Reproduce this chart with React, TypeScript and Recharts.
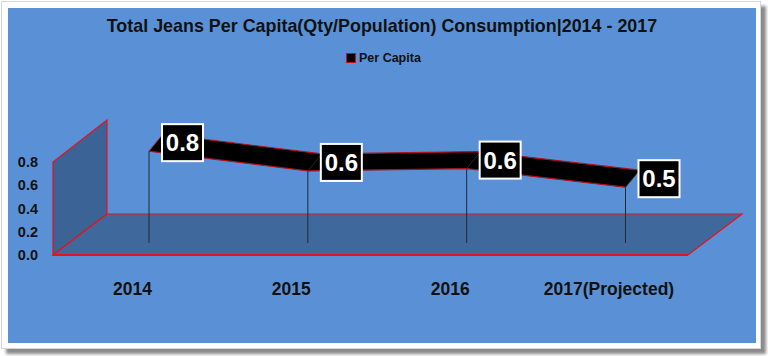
import React from 'react';
import { ComposedChart, Line, XAxis, YAxis, ReferenceLine, LabelList } from 'recharts';

const years = ['2014', '2015', '2016', '2017(Projected)'];
const perCapita = [0.79, 0.62, 0.64, 0.48];
const yTicks = [0, 0.2, 0.4, 0.6, 0.8];

const BLUE = '#5a91d6';
const FLOOR = '#3f699d';
const WALL = '#3b6396';
const RED = '#e8121c';
const INK = '#111111';
const FONT = "'Liberation Sans', Arial, sans-serif";

const W = 748;
const H = 335;
const X_AXIS_H = 88;
const PLOT_BOTTOM = H - X_AXIS_H;
const PX_PER_UNIT = 116.25;
const M = { top: PLOT_BOTTOM - PX_PER_UNIT, right: 0, bottom: 0, left: 0 };
// the ribbon sits a little behind the front face, its zero is 12px higher
const SERIES_SHIFT = 12 / PX_PER_UNIT;
const WALL_TOP = PLOT_BOTTOM - 0.8 * PX_PER_UNIT;
// 3d depth of the ribbon and the floor, in pixels
const RIB_DX = 14;
const RIB_DY = 17;
const FLOOR_DX = 54;
const FLOOR_DY = 41;
const WALL_X = 45;
const FLOOR_RIGHT = 680;

const ribbonPts: { x: number; y: number }[] = [];

// the dots are drawn in order, the last one draws the whole 3d ribbon
const RibbonDot = (props: any) => {
    const { cx, cy, index } = props;
    ribbonPts[index] = { x: cx, y: cy };
    if (index !== perCapita.length - 1) return <g key={`rd-${index}`} />;
    const src: { x: number; y: number }[] =
        Array.isArray(props.points) && props.points.length === perCapita.length
            ? props.points
            : ribbonPts.slice(0, perCapita.length);
    const front = src.map((p) => [p.x, p.y]);
    const back = front.map(([x, y]) => [x + RIB_DX, y - RIB_DY]);
    const poly = [...front, ...back.slice().reverse()].map((p) => p.join(',')).join(' ');
    return (
        <g key="ribbon">
            <polygon points={poly} fill="#000" />
            <polyline points={front.map((p) => p.join(',')).join(' ')} fill="none" stroke="#b0101a" strokeWidth={1.2} />
            <polyline points={back.map((p) => p.join(',')).join(' ')} fill="none" stroke="#b0101a" strokeWidth={1.2} />
            {front.map(([x, y], i) => (
                <line key={i} x1={x} y1={y} x2={back[i][0]} y2={back[i][1]} stroke={i === 0 ? '#b0101a' : '#3a2020'} strokeWidth={1} />
            ))}
        </g>
    );
};

const ValueLabel = (props: any) => {
    const { x, y, value } = props;
    const left = x + 13;
    const cy = y - 8.5;
    return (
        <g>
            <rect x={left} y={cy - 18.5} width={41} height={37} fill="#000" stroke="#fff" strokeWidth={2} />
            <text x={left + 20.5} y={cy + 8.5} textAnchor="middle" fill="#fff" fontSize={24} fontWeight={700} fontFamily={FONT}>
                {Number(value).toFixed(1)}
            </text>
        </g>
    );
};

export default function App() {
    const data = years.map((year, i) => ({ year, perCapita: perCapita[i] }));
    const floor = [
        [WALL_X, PLOT_BOTTOM],
        [FLOOR_RIGHT, PLOT_BOTTOM],
        [FLOOR_RIGHT + FLOOR_DX, PLOT_BOTTOM - FLOOR_DY],
        [WALL_X + FLOOR_DX, PLOT_BOTTOM - FLOOR_DY],
    ];
    const wall = [
        [WALL_X, PLOT_BOTTOM],
        [WALL_X, WALL_TOP],
        [WALL_X + FLOOR_DX, WALL_TOP - FLOOR_DY - 1],
        [WALL_X + FLOOR_DX, PLOT_BOTTOM - FLOOR_DY],
    ];
    const pts = (a: number[][]) => a.map((p) => p.join(',')).join(' ');

    return (
        <div style={{ position: 'absolute', left: 0, top: 0, width: 768, height: 356, background: '#fff', fontFamily: FONT }}>
            <div
                style={{
                    position: 'absolute',
                    left: 1,
                    top: 1,
                    width: 758,
                    height: 346,
                    border: '1px solid #d6d6d6',
                    boxShadow: '5px 5px 3px #8a8a8a',
                    background: '#fff',
                }}
            />
            <div style={{ position: 'absolute', left: 8, top: 8, width: W, height: H, background: BLUE }}>
                <svg width={W} height={H} style={{ position: 'absolute', left: 0, top: 0 }}>
                    <text x={374} y={24} textAnchor="middle" fontSize={17.9} fontWeight={700} fill={INK} fontFamily={FONT}>
                        Total Jeans Per Capita(Qty/Population) Consumption|2014 - 2017
                    </text>
                    <rect x={338.5} y={45.5} width={9} height={9} fill="#000" stroke="#c0101a" strokeWidth={1} />
                    <text x={351} y={54} fontSize={12.5} fontWeight={700} fill={INK} fontFamily={FONT}>
                        Per Capita
                    </text>
                    <polygon points={pts(wall)} fill={WALL} stroke={RED} strokeWidth={1.2} />
                    <polygon points={pts(floor)} fill={FLOOR} stroke={RED} strokeWidth={1.2} />
                    <line x1={WALL_X} y1={PLOT_BOTTOM} x2={FLOOR_RIGHT} y2={PLOT_BOTTOM} stroke={RED} strokeWidth={2} />
                </svg>
                <div style={{ position: 'absolute', left: 0, top: 0 }}>
                    <ComposedChart width={W} height={H} data={data} margin={M}>
                        <XAxis
                            xAxisId="c"
                            dataKey="year"
                            height={X_AXIS_H}
                            padding={{ left: 86.5, right: 147 }}
                            axisLine={false}
                            tickLine={false}
                            tickMargin={22}
                            interval={0}
                            tick={{ fill: INK, fontSize: 17.5, fontWeight: 700, fontFamily: FONT }}
                        />
                        <XAxis xAxisId="s" dataKey="year" hide padding={{ left: 103, right: 130.5 }} />
                        <YAxis
                            yAxisId="f"
                            width={38}
                            domain={[0, 1]}
                            ticks={yTicks}
                            tickFormatter={(v: number) => v.toFixed(1)}
                            axisLine={false}
                            tickLine={false}
                            tick={{ fill: INK, fontSize: 14.5, fontWeight: 700, fontFamily: FONT }}
                        />
                        <YAxis yAxisId="s" hide domain={[-SERIES_SHIFT, 1 - SERIES_SHIFT]} />
                        {years.map((year, i) => (
                            <ReferenceLine
                                key={year}
                                xAxisId="s"
                                yAxisId="s"
                                segment={[
                                    { x: year, y: 0 },
                                    { x: year, y: perCapita[i] },
                                ]}
                                stroke="#1e2a38"
                                strokeWidth={1}
                            />
                        ))}
                        {/* invisible copy that keeps the front value axis alive */}
                        <Line
                            xAxisId="c"
                            yAxisId="f"
                            dataKey="perCapita"
                            stroke="none"
                            dot={false}
                            activeDot={false}
                            legendType="none"
                            isAnimationActive={false}
                        />
                        <Line
                            xAxisId="s"
                            yAxisId="s"
                            dataKey="perCapita"
                            name="Per Capita"
                            stroke="none"
                            dot={RibbonDot}
                            activeDot={false}
                            isAnimationActive={false}
                        >
                            <LabelList dataKey="perCapita" content={ValueLabel} />
                        </Line>
                    </ComposedChart>
                </div>
            </div>
        </div>
    );
}
